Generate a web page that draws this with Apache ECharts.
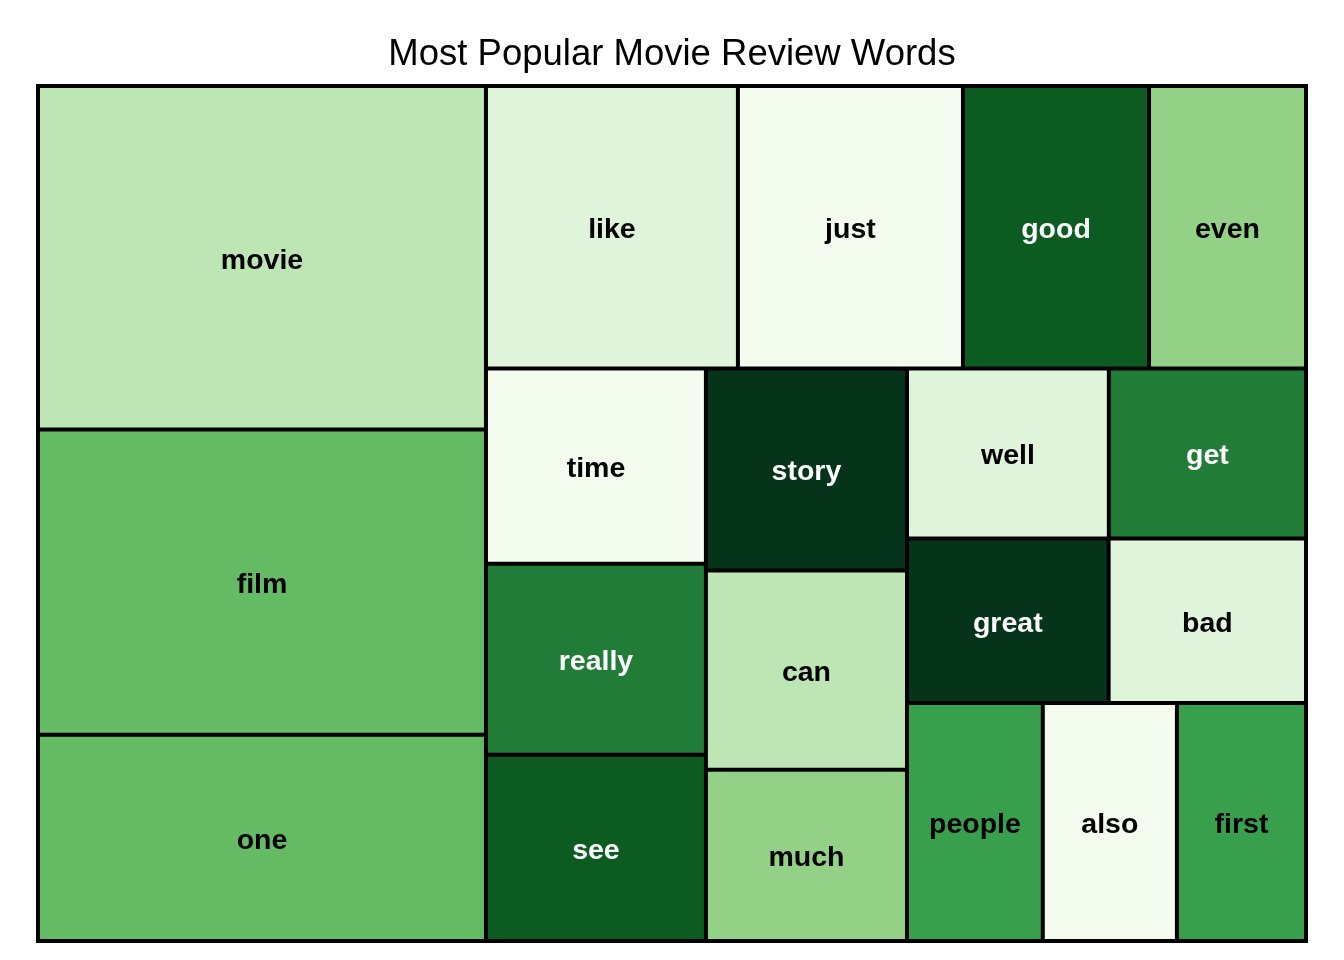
<!DOCTYPE html>
<html>
<head>
<meta charset="utf-8">
<script src="https://cdn.jsdelivr.net/npm/echarts@6/dist/echarts.min.js"></script>
<style>
  html, body { margin: 0; padding: 0; background: #fff; }
  #chart { width: 1344px; height: 960px; }
</style>
</head>
<body>
<div id="chart"></div>
<script>
// Words (categories), largest first
const words = ['movie', 'film', 'one', 'like', 'just', 'good', 'even', 'time', 'really', 'see',
               'story', 'can', 'much', 'well', 'get', 'great', 'bad', 'people', 'also', 'first'];
// Size value of each word (read from the rectangle areas)
const counts = [1537, 1366, 923, 711, 635, 525, 443, 429, 420, 409,
                406, 400, 344, 343, 335, 331, 324, 323, 319, 307];
// Colour class of each word (1 = lightest ... 9 = darkest)
const colorClass = [3, 5, 5, 2, 1, 8, 4, 1, 7, 8,
                    9, 3, 4, 2, 7, 9, 2, 6, 1, 6];
// Green palette for colour classes 1..9
const palette = ['#F4FBEF', '#E0F3DB', '#BEE6B4', '#93D286', '#64BB64',
                 '#38A04C', '#217C37', '#0C5C22', '#06341A'];
// Pivot strips: the leading words are grouped into strips of these sizes,
// the remaining words are laid out freely by the treemap
const stripSizes = [3, 4];

const groupStyle = { borderWidth: 0, gapWidth: 4, borderColor: '#000' };

function leaf(i) {
  const c = colorClass[i];
  return {
    name: words[i],
    value: counts[i],
    itemStyle: { color: palette[c - 1], borderWidth: 0 },
    label: { color: c >= 7 ? '#ffffff' : '#000000' }
  };
}
const leaves = words.map((w, i) => leaf(i));
const sum = arr => arr.reduce((s, d) => s + d.value, 0);

function buildNodes(items, sIdx) {
  if (sIdx >= stripSizes.length) return items;
  const n = stripSizes[sIdx];
  const strip = items.slice(0, n);
  const rest = buildNodes(items.slice(n), sIdx + 1);
  return [
    { name: 'strip' + sIdx, value: sum(strip), children: strip, itemStyle: groupStyle },
    { name: 'rest' + sIdx, value: sum(rest), children: rest, itemStyle: groupStyle }
  ];
}
const treeData = buildNodes(leaves, 0);

const chart = echarts.init(document.getElementById('chart'), null, { renderer: 'canvas' });
chart.setOption({
  animation: false,
  backgroundColor: '#ffffff',
  title: {
    text: 'Most Popular Movie Review Words',
    left: 'center',
    top: 31,
    textStyle: { fontFamily: 'Liberation Sans, Arial, sans-serif', fontSize: 36.5, fontWeight: 'normal', color: '#000' }
  },
  series: [{
    type: 'treemap',
    left: 36,
    top: 84,
    width: 1272,
    height: 859,
    sort: false,
    squareRatio: 1,
    roam: false,
    nodeClick: false,
    breadcrumb: { show: false },
    visibleMin: 0,
    itemStyle: { borderColor: '#000', borderWidth: 0, gapWidth: 4 },
    label: {
      show: true,
      position: 'inside',
      align: 'center',
      verticalAlign: 'middle',
      offset: [0, 3],
      fontFamily: 'Liberation Sans, Arial, sans-serif',
      fontSize: 28.5,
      fontWeight: 'bold',
      padding: 0
    },
    upperLabel: { show: false },
    emphasis: { disabled: true },
    levels: [
      { itemStyle: { borderWidth: 4, borderColor: '#000', gapWidth: 4 } }
    ],
    data: treeData
  }]
});
</script>
</body>
</html>
